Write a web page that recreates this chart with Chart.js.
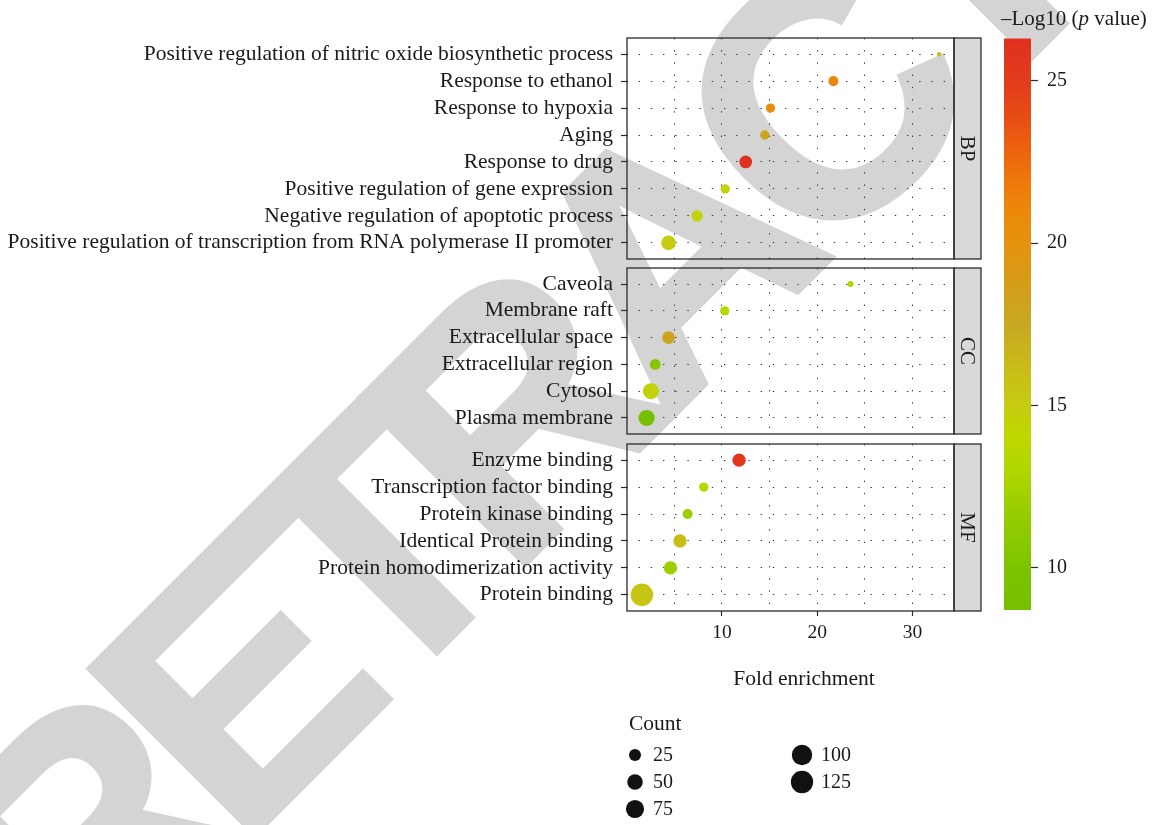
<!DOCTYPE html>
<html>
<head>
<meta charset="utf-8">
<script src="https://cdn.jsdelivr.net/npm/chart.js@4.4.1/dist/chart.umd.min.js"></script>
<style>
  html, body { margin: 0; padding: 0; background: #fff; }
  #wrap { position: relative; width: 1157px; height: 825px; overflow: hidden; background: #fff; }
  #wrap canvas { position: absolute; left: 0; top: 0; }
</style>
</head>
<body>
<div id="wrap">
  <canvas id="stamp" width="1157" height="825"></canvas>
  <canvas id="bp" width="1157" height="825"></canvas>
  <canvas id="cc" width="1157" height="825"></canvas>
  <canvas id="mf" width="1157" height="825"></canvas>
  <canvas id="bar" width="1157" height="825"></canvas>
</div>
<script>
// ---- GO enrichment terms per ontology ----
const bpTerms = [
  'Positive regulation of nitric oxide biosynthetic process',
  'Response to ethanol',
  'Response to hypoxia',
  'Aging',
  'Response to drug',
  'Positive regulation of gene expression',
  'Negative regulation of apoptotic process',
  'Positive regulation of transcription from RNA polymerase II promoter'
];
const bpFold  = [32.8, 21.7, 15.1, 14.5, 12.5, 10.35, 7.4, 4.4];
const bpCount = [3, 15, 12, 12, 29, 12, 21, 43];
const bpLogP  = [16.0, 21.0, 20.5, 18.0, 26.3, 14.5, 14.5, 15.0];

const ccTerms = ['Caveola', 'Membrane raft', 'Extracellular space', 'Extracellular region', 'Cytosol', 'Plasma membrane'];
const ccFold  = [23.5, 10.3, 4.4, 3.0, 2.55, 2.1];
const ccCount = [4, 12, 29, 18, 54, 55];
const ccLogP  = [13.0, 13.5, 18.0, 10.5, 14.5, 8.7];

const mfTerms = ['Enzyme binding', 'Transcription factor binding', 'Protein kinase binding',
                 'Identical Protein binding', 'Protein homodimerization activity', 'Protein binding'];
const mfFold  = [11.8, 8.1, 6.4, 5.6, 4.6, 1.6];
const mfCount = [33, 12, 15, 33, 33, 128];
const mfLogP  = [25.8, 13.5, 12.0, 16.0, 12.0, 15.5];

const xTicks = [10, 20, 30];
const colourTicks = [10, 15, 20, 25];
const legendCounts = [25, 50, 75, 100, 125];

// ---- shared scales ----
const allFold  = bpFold.concat(ccFold, mfFold);
const allCount = bpCount.concat(ccCount, mfCount);
const allLogP  = bpLogP.concat(ccLogP, mfLogP);
const fMin = Math.min(...allFold), fMax = Math.max(...allFold);
const xMin = fMin - 0.05 * (fMax - fMin), xMax = fMax + 0.05 * (fMax - fMin);
const cMin = Math.min(...allCount), cMax = Math.max(...allCount);
const pMin = Math.min(...allLogP), pMax = Math.max(...allLogP);
const xGrid = xTicks.flatMap(t => [t - 5, t]);

// ---- styling ----
const SERIF = '"Liberation Serif", "Times New Roman", serif';
const INK = '#1a1a1a';
const GRID_DOT = 'rgba(45,45,45,0.95)';
const PANEL_L = 627, PANEL_R = 954, STRIP_W = 27;
const X_AXIS_H = 85;
const palette = [
  [8.7, '#76c000'], [10, '#7cc400'], [11.5, '#94cc00'], [13, '#b0d600'], [14, '#bed800'],
  [15, '#c6cc10'], [16, '#c8be18'], [17.5, '#c8a822'], [19, '#d89a16'], [20, '#e4920e'],
  [21, '#ec880a'], [22, '#ee760c'], [23, '#ec600e'], [24, '#e64a16'], [25, '#e23c1c'], [26.3, '#e0301e']
];
Chart.defaults.font.family = SERIF;
Chart.defaults.color = INK;

function hexRgb(h) { return [1, 3, 5].map(i => parseInt(h.substr(i, 2), 16)); }
function colourFor(v) {
  if (v <= palette[0][0]) return palette[0][1];
  for (let i = 1; i < palette.length; i++) {
    if (v <= palette[i][0]) {
      const [v0, c0] = palette[i - 1], [v1, c1] = palette[i];
      const t = (v - v0) / (v1 - v0), a = hexRgb(c0), b = hexRgb(c1);
      const m = a.map((x, k) => Math.round(x + (b[k] - x) * t));
      return `rgb(${m[0]},${m[1]},${m[2]})`;
    }
  }
  return palette[palette.length - 1][1];
}
function dotDiameter(c) {
  return 4.5 + 18 * Math.sqrt(Math.max(0, c - cMin) / (cMax - cMin));
}

// panel border, facet strip and its label
function framePlugin(label) {
  return {
    id: 'frame',
    afterDraw(chart) {
      const { ctx, chartArea: a } = chart;
      ctx.save();
      ctx.fillStyle = '#d9d9d9';
      ctx.fillRect(a.right, a.top, STRIP_W, a.bottom - a.top);
      ctx.strokeStyle = '#2b2b2b';
      ctx.lineWidth = 1.3;
      ctx.strokeRect(a.left, a.top, a.right - a.left, a.bottom - a.top);
      ctx.strokeRect(a.right, a.top, STRIP_W, a.bottom - a.top);
      ctx.translate(a.right + STRIP_W / 2, (a.top + a.bottom) / 2);
      ctx.rotate(Math.PI / 2);
      ctx.fillStyle = INK;
      ctx.font = '21px ' + SERIF;
      ctx.textAlign = 'center';
      ctx.textBaseline = 'middle';
      ctx.fillText(label, 0, 1);
      ctx.restore();
    }
  };
}

// x title centred over panels and strips, plus the size legend for gene counts
const countLegend = {
  id: 'countLegend',
  afterDraw(chart) {
    const ctx = chart.ctx;
    const a = chart.chartArea;
    ctx.save();
    ctx.fillStyle = INK;
    ctx.textAlign = 'center';
    ctx.textBaseline = 'middle';
    ctx.font = '21.5px ' + SERIF;
    ctx.fillText('Fold enrichment', (a.left + a.right + STRIP_W) / 2, 679);
    ctx.textAlign = 'left';
    ctx.fillText('Count', 629, 724);
    ctx.font = '20px ' + SERIF;
    const colX = [635, 802], labX = [653, 821], rowY = [755, 782, 809];
    legendCounts.forEach((c, i) => {
      const col = Math.floor(i / 3), row = i % 3;
      ctx.fillStyle = '#111';
      ctx.beginPath();
      ctx.arc(colX[col], rowY[row], dotDiameter(c) / 2, 0, Math.PI * 2);
      ctx.fill();
      ctx.fillStyle = INK;
      ctx.fillText(String(c), labX[col], rowY[row] + 1);
    });
    ctx.restore();
  }
};

function panel(id, strip, terms, fold, count, logp, top, bottom, showX) {
  const n = terms.length;
  const padBottom = showX ? 825 - bottom - X_AXIS_H : 825 - bottom;
  return new Chart(document.getElementById(id), {
    type: 'scatter',
    data: {
      datasets: [{
        data: fold.map((f, i) => ({ x: f, y: i })),
        pointRadius: c => dotDiameter(count[c.dataIndex]) / 2,
        pointHoverRadius: c => dotDiameter(count[c.dataIndex]) / 2,
        backgroundColor: c => colourFor(logp[c.dataIndex]),
        borderWidth: 0
      }]
    },
    options: {
      responsive: false, animation: false, events: [], devicePixelRatio: 1,
      layout: { padding: { left: 0, right: 1157 - PANEL_R, top: top, bottom: padBottom } },
      plugins: { legend: { display: false }, tooltip: { enabled: false } },
      scales: {
        x: {
          type: 'linear', min: xMin, max: xMax,
          afterBuildTicks: s => { s.ticks = xGrid.map(v => ({ value: v })); },
          afterFit: s => { s.height = showX ? X_AXIS_H : 0; },
          grid: {
            color: GRID_DOT, lineWidth: 1, drawTicks: showX, tickLength: 5,
            tickColor: c => (c.tick && xTicks.includes(c.tick.value)) ? '#2b2b2b' : 'rgba(0,0,0,0)',
            tickWidth: 1.2, tickBorderDash: []
          },
          border: { display: false, dash: [1.4, 10.8], dashOffset: 0 },
          ticks: {
            display: showX, padding: 5, color: INK, font: { family: SERIF, size: 19.5 },
            maxRotation: 0, autoSkip: false,
            callback: v => xTicks.includes(v) ? String(v) : ''
          }
        },
        y: {
          type: 'linear', reverse: true, min: -0.6, max: n - 0.4,
          afterBuildTicks: s => { s.ticks = terms.map((_, i) => ({ value: i })); },
          afterFit: s => { s.width = PANEL_L; },
          grid: {
            color: GRID_DOT, lineWidth: 1, drawTicks: true, tickLength: 6,
            tickColor: '#2b2b2b', tickWidth: 1.2, tickBorderDash: []
          },
          border: { display: false, dash: [1.4, 10.8], dashOffset: 0.6 },
          ticks: {
            padding: 8, color: INK, font: { family: SERIF, size: 21.5 }, autoSkip: false,
            callback: v => terms[v]
          }
        }
      }
    },
    plugins: showX ? [framePlugin(strip), countLegend] : [framePlugin(strip)]
  });
}

panel('bp', 'BP', bpTerms, bpFold, bpCount, bpLogP, 38, 259, false);
panel('cc', 'CC', ccTerms, ccFold, ccCount, ccLogP, 268, 434, false);
panel('mf', 'MF', mfTerms, mfFold, mfCount, mfLogP, 444, 611, true);

// ---- colour bar for -log10(p) ----
const BAR_L = 1004, BAR_R = 1031, BAR_T = 38.5, BAR_B = 610, BAR_AXIS_W = 70;
const barFill = {
  id: 'barFill',
  beforeDatasetsDraw(chart) {
    const { ctx, chartArea: a } = chart;
    const ys = chart.scales.y;
    const g = ctx.createLinearGradient(0, a.bottom, 0, a.top);
    palette.forEach(([v, c]) => {
      const off = (a.bottom - ys.getPixelForValue(v)) / (a.bottom - a.top);
      g.addColorStop(Math.min(1, Math.max(0, off)), c);
    });
    ctx.save();
    ctx.fillStyle = g;
    ctx.fillRect(a.left, a.top, a.right - a.left, a.bottom - a.top);
    // legend title with italic p
    ctx.fillStyle = INK;
    ctx.textBaseline = 'alphabetic';
    ctx.textAlign = 'left';
    let x = 1001;
    const y = 25;
    const parts = [['–Log10 (', 'normal'], ['p', 'italic'], [' value)', 'normal']];
    parts.forEach(([t, st]) => {
      ctx.font = st + ' 21px ' + SERIF;
      ctx.fillText(t, x, y);
      x += ctx.measureText(t).width;
    });
    ctx.restore();
  }
};
new Chart(document.getElementById('bar'), {
  type: 'scatter',
  data: { datasets: [] },
  options: {
    responsive: false, animation: false, events: [], devicePixelRatio: 1,
    layout: { padding: { left: BAR_L, right: 1157 - BAR_R - BAR_AXIS_W, top: BAR_T, bottom: 825 - BAR_B } },
    plugins: { legend: { display: false }, tooltip: { enabled: false } },
    scales: {
      x: { display: false, min: 0, max: 1 },
      y: {
        position: 'right', min: pMin, max: pMax,
        afterBuildTicks: s => { s.ticks = colourTicks.map(v => ({ value: v })); },
        afterFit: s => { s.width = BAR_AXIS_W; },
        grid: { drawOnChartArea: false, drawTicks: true, tickLength: 7, tickColor: '#2b2b2b', tickWidth: 1.2 },
        border: { display: false },
        ticks: { padding: 9, color: INK, font: { family: SERIF, size: 20 }, callback: v => String(v) }
      }
    }
  },
  plugins: [barFill]
});

// ---- diagonal notice stamp behind the figure ----
(function () {
  const st = document.getElementById('stamp').getContext('2d');
  const word = 'RETRACTED';
  const size = 340, track = -26;
  st.font = 'bold ' + size + 'px "Liberation Sans", Arial, sans-serif';
  const xs = [];
  let pos = 0;
  for (const ch of word) { xs.push(pos); pos += st.measureText(ch).width + track; }
  const cIdx = word.indexOf('C');
  const cCentre = xs[cIdx] + st.measureText('C').width / 2;
  st.save();
  st.translate(820, 96);
  st.rotate(-Math.PI / 4);
  st.fillStyle = '#d4d4d4';
  st.strokeStyle = '#d4d4d4';
  st.lineWidth = 6;
  st.lineJoin = 'miter';
  st.textBaseline = 'alphabetic';
  st.textAlign = 'left';
  [...word].forEach((ch, i) => {
    st.fillText(ch, xs[i] - cCentre, 0.36 * size);
    st.strokeText(ch, xs[i] - cCentre, 0.36 * size);
  });
  st.restore();
})();
</script>
</body>
</html>
